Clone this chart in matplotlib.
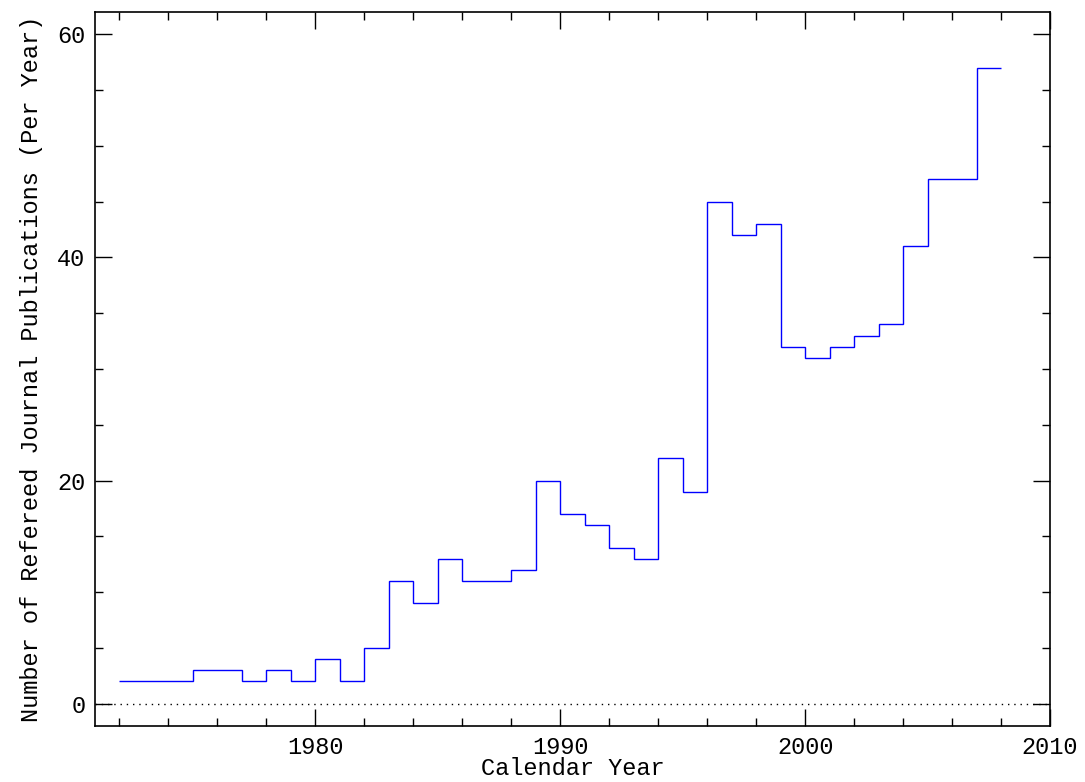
import matplotlib
matplotlib.use("Agg")
import matplotlib.pyplot as plt
from matplotlib.ticker import MultipleLocator
import numpy as np

years = [1972, 1973, 1974, 1975, 1976, 1977, 1978, 1979, 1980, 1981, 1982, 1983,
         1984, 1985, 1986, 1987, 1988, 1989, 1990, 1991, 1992, 1993, 1994, 1995,
         1996, 1997, 1998, 1999, 2000, 2001, 2002, 2003, 2004, 2005, 2006, 2007]
counts = [2, 2, 2, 3, 3, 2, 3, 2, 4, 2, 5, 11,
          9, 13, 11, 11, 12, 20, 17, 16, 14, 13, 22, 19,
          45, 42, 43, 32, 31, 32, 33, 34, 41, 47, 47, 57]

plt.rcParams['font.family'] = ['Liberation Mono', 'DejaVu Serif']
fig = plt.figure(figsize=(10.85, 7.82), dpi=100)
W, H = 1085, 782
ax = fig.add_axes([95 / W, (H - 726) / H, (1050 - 95) / W, (726 - 12) / H])

edges = list(years) + [years[-1] + 1]
ax.stairs(counts, edges, color='blue', linewidth=1.0, baseline=None)
ax.axhline(0, color='black', linestyle=(0, (1, 3.5)), linewidth=1.0)

ax.set_xlim(1971, 2010)
ax.set_ylim(-2, 62)
ax.xaxis.set_major_locator(MultipleLocator(10))
ax.xaxis.set_minor_locator(MultipleLocator(2))
ax.yaxis.set_major_locator(MultipleLocator(20))
ax.yaxis.set_minor_locator(MultipleLocator(5))
ax.tick_params(which='both', direction='in', top=True, right=True, labelsize=17, width=1, colors='black')
ax.tick_params(which='major', length=12, pad=7)
ax.tick_params(which='minor', length=6)
for s in ax.spines.values():
    s.set_linewidth(1.2)

ax.set_xlabel('Calendar Year', fontsize=17, labelpad=-1)
ax.set_ylabel('Number of Refereed Journal Publications (Per Year)', fontsize=17, labelpad=10)

fig.savefig('out.png', dpi=100)
